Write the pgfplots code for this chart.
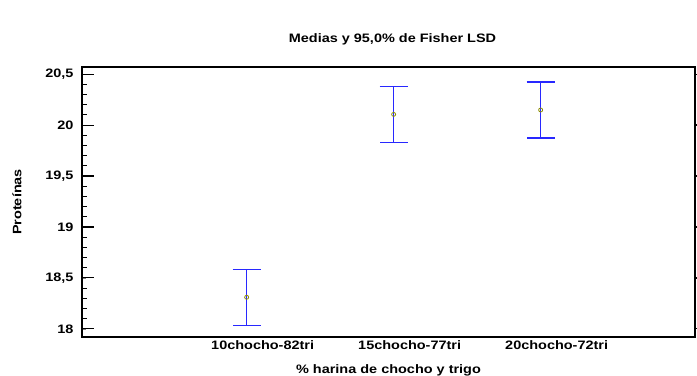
\documentclass[border=0pt]{standalone}
\usepackage{pgfplots}
\pgfplotsset{compat=1.18}
\usepackage{fontspec}
\setmainfont{Liberation Sans}[FakeStretch=1.18]
\definecolor{errblue}{RGB}{40,40,255}
\definecolor{markolive}{RGB}{140,140,0}
\begin{document}
\begin{tikzpicture}
\pgfplotstableread{
x mean err
1 18.31 0.275
2 20.105 0.275
3 20.148 0.275
}\datatab
\begin{axis}[
  name=ax,
  scale only axis,
  width=613bp, height=270bp,
  xmin=-0.12, xmax=4.05,
  ymin=17.92, ymax=20.57,
  xtick={1,2,3},
  xticklabels={10chocho-82tri,15chocho-77tri,20chocho-72tri},
  xtick style={draw=none},
  ytick={18,18.5,19,19.5,20,20.5},
  ytick pos=left,
  axis line style={black, line width=1.2bp},
  /pgf/number format/use comma,
  /pgf/number format/fixed,
  /pgf/number format/precision=1,
  /pgf/number format/assume math mode=true,
  tick label style={font=\fontsize{12.3}{14}\selectfont\bfseries},
  label style={font=\fontsize{12.3}{14}\selectfont\bfseries},
  title style={font=\fontsize{12.3}{14}\selectfont\bfseries, yshift=12bp, xshift=4bp},
  yticklabel style={xshift=-5bp},
  xticklabel style={xshift=16bp},
  xlabel={\% harina de chocho y trigo},
  ylabel={Proteínas},
  xlabel style={yshift=-8bp},
  ylabel style={yshift=17bp},
  title={Medias y 95,0\% de Fisher LSD},
  clip=false,
]
\addplot[errblue, line width=1.1bp, mark=o, mark size=2bp,
  mark options={markolive, line width=0.8bp, fill=white},
  only marks,
  error bars/.cd, y dir=both, y explicit,
  error bar style={errblue, line width=1.1bp},
  error mark options={errblue, rotate=90, mark size=14bp, line width=1.1bp}]
  table[x=x, y=mean, y error=err]{\datatab};
\end{axis}
% left major ticks
\begin{axis}[
  scale only axis,
  width=613bp, height=270bp,
  xmin=-0.12, xmax=4.05,
  ymin=17.92, ymax=20.57,
  hide x axis,
  axis y line*=left,
  y axis line style={black, line width=1.2bp, -},
  ytick={18,18.5,19,19.5,20,20.5},
  yticklabels={},
  tick align=inside,
  major tick length=12bp,
  every tick/.append style={black, line width=1.1bp},
]
\addplot[draw=none] coordinates {(1,18)};
\end{axis}
% left minor ticks
\begin{axis}[
  scale only axis,
  width=613bp, height=270bp,
  xmin=-0.12, xmax=4.05,
  ymin=17.92, ymax=20.57,
  hide x axis,
  axis y line*=left,
  y axis line style={black, line width=1.2bp, -},
  ytick={18.1,18.2,18.3,18.4,18.6,18.7,18.8,18.9,19.1,19.2,19.3,19.4,19.6,19.7,19.8,19.9,20.1,20.2,20.3,20.4},
  yticklabels={},
  tick align=inside,
  major tick length=5bp,
  every tick/.append style={black, line width=1bp},
]
\addplot[draw=none] coordinates {(1,18)};
\end{axis}
% right ticks (major only, pointing outward)
\begin{axis}[
  scale only axis,
  width=613bp, height=270bp,
  xmin=-0.12, xmax=4.05,
  ymin=17.92, ymax=20.57,
  hide x axis,
  axis y line*=right,
  y axis line style={black, line width=1.2bp, -},
  ytick={18,18.5,19,19.5,20,20.5},
  yticklabels={},
  tick align=outside,
  major tick length=4bp,
  every tick/.append style={black, line width=1.2bp},
]
\addplot[draw=none] coordinates {(1,18)};
\end{axis}
\pgfresetboundingbox
\path ([shift={(-82bp,-39bp)}]ax.south west) rectangle ([shift={(615bp,337bp)}]ax.south west);
\end{tikzpicture}
\end{document}
